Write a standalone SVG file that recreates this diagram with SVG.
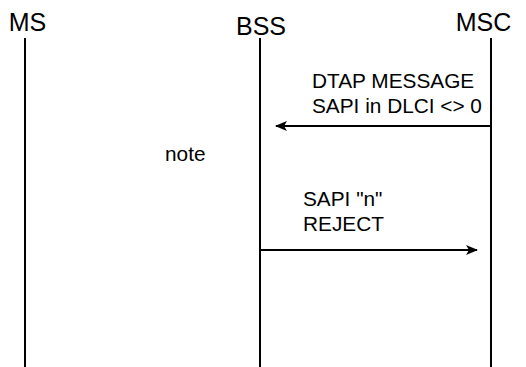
<svg xmlns="http://www.w3.org/2000/svg" width="526" height="367" viewBox="0 0 526 367">
<defs>
<style>
.hdr{font-family:"Liberation Sans",Arial,sans-serif;font-size:25px;fill:#000}
.msg{font-family:"Liberation Sans",Arial,sans-serif;font-size:20.8px;fill:#000}
.life{stroke:#000;stroke-width:2;fill:none}
.arr{stroke:#000;stroke-width:2;fill:none}
</style>
<marker id="ah" viewBox="0 0 12 10" refX="11" refY="5" markerWidth="12" markerHeight="10" markerUnits="userSpaceOnUse" orient="auto">
<path d="M0,0 L12,5 L0,10 L3,5 Z" fill="#000"/>
</marker>
</defs>
<g id="MS">
<text class="hdr" x="27.5" y="31" text-anchor="middle">MS</text>
<line class="life" x1="25" y1="38" x2="25" y2="367"/>
</g>
<g id="BSS">
<text class="hdr" x="261" y="35" text-anchor="middle">BSS</text>
<line class="life" x1="260" y1="38" x2="260" y2="367"/>
</g>
<g id="MSC">
<text class="hdr" x="483.5" y="31" text-anchor="middle">MSC</text>
<line class="life" x1="491" y1="38" x2="491" y2="367"/>
</g>
<g id="note">
<text class="msg" x="165" y="161">note</text>
</g>
<g id="connectors">
<line class="arr" x1="491" y1="126" x2="276" y2="126" marker-end="url(#ah)"/>
<line class="arr" x1="261" y1="250" x2="477" y2="250" marker-end="url(#ah)"/>
<text class="msg" x="312" y="88">DTAP MESSAGE</text>
<text class="msg" x="312" y="113">SAPI in DLCI &lt;&gt; 0</text>
<text class="msg" x="303" y="206">SAPI "n"</text>
<text class="msg" x="303" y="231">REJECT</text>
</g>
</svg>
